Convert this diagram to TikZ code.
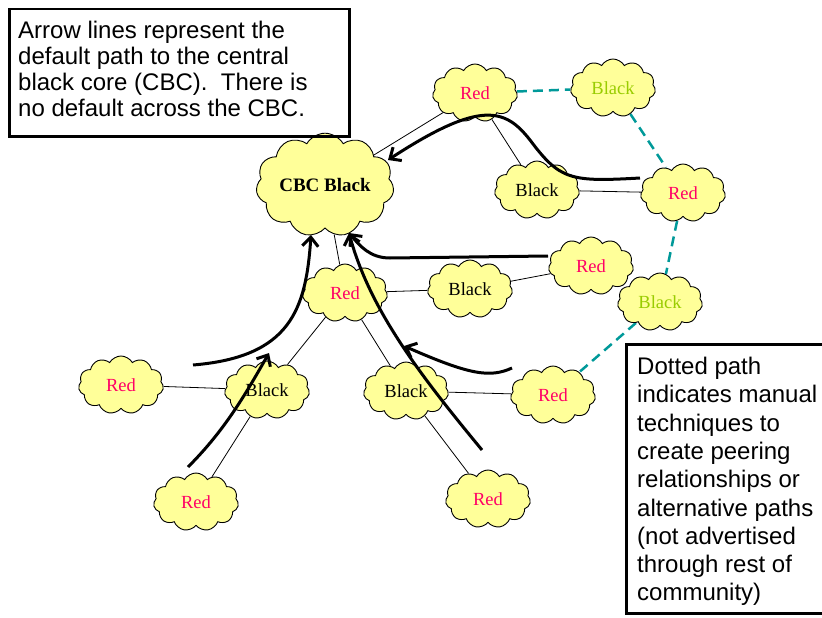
\documentclass[tikz,border=0pt]{standalone}
\usepackage{fontspec}
\setmainfont{Liberation Serif}
\newfontfamily\notefont{Liberation Sans}
\usetikzlibrary{shapes.symbols,arrows.meta,positioning,backgrounds}
\definecolor{cloudyellow}{RGB}{255,255,153}
\definecolor{redtext}{RGB}{255,0,102}
\definecolor{greentext}{RGB}{153,204,0}
\definecolor{peerteal}{RGB}{0,153,153}

\begin{document}
\begin{tikzpicture}[x=1pt,y=-1pt,
    net/.style={cloud,cloud puffs=11,cloud puff arc=120,aspect=1.5,draw,fill=cloudyellow,line width=0.9pt,
        minimum width=85pt,minimum height=58pt,inner sep=0pt,font=\fontsize{18.5}{20}\selectfont},
    rednet/.style={net,text=redtext},
    peernet/.style={net,text=greentext},
    link/.style={line width=0.8pt},
    peerlink/.style={line width=2.5pt,peerteal,dash pattern=on 10pt off 6pt},
    route/.style={line width=3pt,-{Straight Barb[length=9pt,width=16pt]}},
    frame/.style={draw,line width=2.5pt,anchor=north west,inner sep=0pt},
    note/.style={anchor=north west,inner sep=0pt,align=left,font=\notefont\fontsize{24}{26}\selectfont}]
    \clip (0,0) rectangle (822,618);

    % Clouds
    \node[net,minimum width=125pt,minimum height=85pt,font=\bfseries\fontsize{19}{21}\selectfont] (cbc) at (325,185) {CBC Black};
    \node[rednet] (r1) at (475,93) {Red};
    \node[peernet] (g1) at (613,88) {Black};
    \node[net] (b1) at (537,190) {Black};
    \node[rednet] (r2) at (683,193) {Red};
    \node[rednet] (r3) at (591,266) {Red};
    \node[peernet] (g2) at (660,302) {Black};
    \node[rednet] (r4) at (345,293) {Red};
    \node[net] (b2) at (470,289) {Black};
    \node[rednet] (r5) at (121,385) {Red};
    \node[net] (b3) at (267,390) {Black};
    \node[net] (b4) at (406,391) {Black};
    \node[rednet] (r6) at (553,395) {Red};
    \node[rednet] (r7) at (196,502) {Red};
    \node[rednet] (r8) at (488,499) {Red};

    % Links
    \begin{pgfonlayer}{background}
        \draw[link] (cbc) -- (r1);
        \draw[link] (r1) -- (b1);
        \draw[link] (b1) -- (r2);
        \draw[link] (cbc) -- (r4);
        \draw[link] (r4) -- (b2);
        \draw[link] (b2) -- (r3);
        \draw[link] (r4) -- (b3);
        \draw[link] (r4) -- (b4);
        \draw[link] (b3) -- (r5);
        \draw[link] (b3) -- (r7);
        \draw[link] (b4) -- (r6);
        \draw[link] (b4) -- (r8);
        % Manual peering
        \draw[peerlink] (r1) -- (g1);
        \draw[peerlink] (g1) -- (r2);
        \draw[peerlink] (r2) -- (g2);
        \draw[peerlink] (g2) -- (r6);
    \end{pgfonlayer}

    % Default paths to the core
    \coordinate (p1) at (640,178);
    \coordinate (q1) at (388,160);
    \coordinate (p2) at (548,256);
    \coordinate (p3) at (193,365);
    \coordinate (q3) at (311,235);
    \coordinate (p4) at (188,467);
    \coordinate (q4) at (269,353);
    \coordinate (p5) at (482,450);
    \coordinate (q5) at (349,233);
    \coordinate (p6) at (512,368);
    \coordinate (q6) at (404,346);
    \draw[route] (p1) .. controls (570,182) and (560,180) .. (530,140) .. controls (505,108) and (480,100) .. (q1);
    \draw[route] (p2) -- (390,258) .. controls (370,258) and (360,246) .. (q5);
    \draw[route] (p3) .. controls (290,357) and (306,310) .. (q3);
    \draw[route] (p4) .. controls (225,430) and (245,395) .. (q4);
    \draw[route] (p5) .. controls (420,375) and (370,310) .. (q5);
    \draw[route] (p6) .. controls (490,378) and (470,375) .. (q6);

    % Notes
    \node[frame,minimum width=340pt,minimum height=127pt] (frame1) at (8,8) {};
    \node[note] (note1) at ([xshift=10pt,yshift=-13pt]frame1.north west)
        {Arrow lines represent the\\default path to the central\\black core (CBC).\ \ There is\\no default across the CBC.};
    \node[frame,minimum width=210pt,minimum height=269pt] (frame2) at (625,343) {};
    \node[note,font=\notefont\fontsize{24}{28.3}\selectfont] (note2) at ([xshift=12pt,yshift=-14pt]frame2.north west)
        {Dotted path\\indicates manual\\techniques to\\create peering\\relationships or\\alternative paths\\(not advertised\\through rest of\\community)};
\end{tikzpicture}
\end{document}
